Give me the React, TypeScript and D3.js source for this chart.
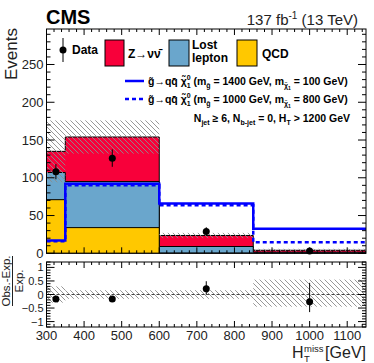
import React from 'react';
import * as d3 from 'd3';

// HT-miss bins (GeV)
const binEdges = [300, 350, 600, 850, 1150];
// stacked backgrounds
const qcdYield = [71, 34, 0, 0];
const lostLeptonYield = [36, 61, 9, 1.5];
const zinvYield = [28, 59, 14.6, 2.5];
const bkgUncUp = [41, 22, 3.5, 2];
const bkgUncDown = [41, 22, 3.5, 1.5];
// observed
const dataObs = [108, 126, 29, 3];
const dataErrUp = [10, 11.5, 5.5, 3];
const dataErrDown = [10, 11.5, 5.5, 1.7];
// signal benchmarks
const sigHeavy = [17, 92, 66, 32.5];
const sigCompressed = [16, 90, 63.5, 14.7];
// ratio panel
const ratioObs = [-0.17, -0.17, 0.21, -0.27];
const ratioErrUp = [0.07, 0.07, 0.28, 0.7];
const ratioErrDown = [0.07, 0.07, 0.22, 0.38];
const ratioUncUp = [0.3, 0.16, 0.16, 0.55];
const ratioUncDown = [0.3, 0.16, 0.16, 0.45];

const yTicks = [0, 50, 100, 150, 200, 250];
const ratioTicks = [-1, -0.5, 0, 0.5, 1];
const xTicks = [300, 400, 500, 600, 700, 800, 900, 1000, 1100];

const RED = '#f8003a';
const BLUE = '#6aa6cc';
const YELLOW = '#ffc800';
const FONT = '"Liberation Sans", Arial, Helvetica, sans-serif';

const L = 46.5;
const R = 366;
const x = d3.scaleLinear().domain([300, 1150]).range([L, R]);
const y = d3.scaleLinear().domain([0, 297]).range([253.3, 29]);
const yr = d3.scaleLinear().domain([-1.2, 1.2]).range([327, 262]);

const nb = binEdges.length - 1;
const centers = d3.range(nb).map((i) => (binEdges[i] + binEdges[i + 1]) / 2);

const stepPts = (vals: number[]) => binEdges.map((e, i) => [e, vals[Math.min(i, nb - 1)]] as [number, number]);

const area = d3
  .area<[number, number]>()
  .curve(d3.curveStepAfter)
  .x((d) => x(d[0]))
  .y0(y(0))
  .y1((d) => y(d[1]));

const line = d3
  .line<[number, number]>()
  .curve(d3.curveStepAfter)
  .x((d) => x(d[0]))
  .y((d) => y(d[1]));

function Ticks({ top, bottom, yScale, yMajor, yMinor, yMaj = 8, yMin = 4 }: any) {
  const xMinor = d3.range(300, 1151, 20).filter((v) => v % 100 !== 0);
  const segs: any[] = [];
  xTicks.forEach((v) => {
    segs.push([x(v), bottom, x(v), bottom - 6]);
    segs.push([x(v), top, x(v), top + 6]);
  });
  xMinor.forEach((v) => {
    segs.push([x(v), bottom, x(v), bottom - 3]);
    segs.push([x(v), top, x(v), top + 3]);
  });
  yMajor.forEach((v: number) => {
    segs.push([L, yScale(v), L + yMaj, yScale(v)]);
    segs.push([R, yScale(v), R - yMaj, yScale(v)]);
  });
  yMinor.forEach((v: number) => {
    segs.push([L, yScale(v), L + yMin, yScale(v)]);
    segs.push([R, yScale(v), R - yMin, yScale(v)]);
  });
  return (
    <g stroke="#000" strokeWidth={1}>
      {segs.map((s, i) => (
        <line key={i} x1={s[0]} y1={s[1]} x2={s[2]} y2={s[3]} />
      ))}
    </g>
  );
}

export default function App() {
  const cumQcd = qcdYield;
  const cumLL = qcdYield.map((v, i) => v + lostLeptonYield[i]);
  const cumTot = cumLL.map((v, i) => v + zinvYield[i]);

  const mainMinor = d3.range(0, 297, 10).filter((v) => v % 50 !== 0);
  const ratioMinor = d3.range(-1.2, 1.21, 0.1).map((v) => Math.round(v * 10) / 10).filter((v) => Math.abs(v * 2 - Math.round(v * 2)) > 0.01);

  const sub = { fontSize: 7 };

  return (
    <div style={{ position: 'fixed', left: 0, top: 0 }}>
      <svg width={374} height={363} style={{ display: 'block', fontFamily: FONT }}>
        <defs>
          <pattern id="hatch" patternUnits="userSpaceOnUse" width={5} height={5}>
            <path d="M-1,-1 L6,6 M-1,4 L1,6 M4,-1 L6,1" stroke="#8c8c8c" strokeWidth={0.9} />
          </pattern>
          <clipPath id="mainClip">
            <rect x={L} y={29} width={R - L} height={253.3 - 29} />
          </clipPath>
        </defs>
        <rect width={374} height={363} fill="#fff" />

        {/* stacked backgrounds */}
        <g clipPath="url(#mainClip)">
          <path d={area(stepPts(cumTot)) as string} fill={RED} stroke="#000" strokeWidth={1} />
          <path d={area(stepPts(cumLL)) as string} fill={BLUE} stroke="#000" strokeWidth={1} />
          <path d={area(stepPts(cumQcd)) as string} fill={YELLOW} stroke="#000" strokeWidth={1} />
          {/* uncertainty band */}
          {d3.range(nb).map((i) => (
            <rect
              key={i}
              x={x(binEdges[i])}
              width={x(binEdges[i + 1]) - x(binEdges[i])}
              y={y(cumTot[i] + bkgUncUp[i])}
              height={y(cumTot[i] - bkgUncDown[i]) - y(cumTot[i] + bkgUncUp[i])}
              fill="url(#hatch)"
            />
          ))}
          {/* signals */}
          <path d={line(stepPts(sigHeavy)) as string} fill="none" stroke="#0000ff" strokeWidth={2.5} />
          <path d={line(stepPts(sigCompressed)) as string} fill="none" stroke="#0000ff" strokeWidth={2.5} strokeDasharray="4,3" />
        </g>

        {/* data */}
        {centers.map((c, i) => (
          <g key={i}>
            <line x1={x(c)} x2={x(c)} y1={y(dataObs[i] + dataErrUp[i])} y2={y(dataObs[i] - dataErrDown[i])} stroke="#000" />
            <circle cx={x(c)} cy={y(dataObs[i])} r={3.5} fill="#000" />
          </g>
        ))}

        <Ticks top={29} bottom={253.3} yScale={y} yMajor={yTicks} yMinor={mainMinor} />
        <rect x={L} y={29} width={R - L} height={253.3 - 29} fill="none" stroke="#000" strokeWidth={1} />

        {/* main y labels */}
        <g fontSize={13} fill="#222" textAnchor="end">
          {yTicks.map((v) => (
            <text key={v} x={L - 3} y={y(v) + 4.5}>
              {v}
            </text>
          ))}
        </g>
        <text transform="translate(17,28) rotate(-90)" textAnchor="end" fontSize={17} fill="#222">
          Events
        </text>

        {/* header */}
        <text x={46} y={24} fontSize={20} fontWeight="bold">
          CMS
        </text>
        <text x={358} y={25} fontSize={15} textAnchor="end" fill="#222">
          137 fb<tspan fontSize={10} dy={-6}>-1</tspan>
          <tspan dy={6}> (13 TeV)</tspan>
        </text>

        {/* legend row */}
        <g fontWeight="bold" fontSize={12}>
          <line x1={63} x2={63} y1={38} y2={62} stroke="#000" />
          <circle cx={63} cy={50} r={3.5} fill="#000" />
          <text x={72} y={54}>Data</text>
          <rect x={105} y={40} width={19} height={26} fill={RED} stroke="#000" />
          <text x={128} y={58}>
            Z→νν̄
          </text>
          <rect x={169} y={40} width={20} height={26} fill={BLUE} stroke="#000" />
          <text x={192} y={49}>Lost</text>
          <text x={192} y={62}>lepton</text>
          <rect x={237} y={40} width={20} height={26} fill={YELLOW} stroke="#000" />
          <text x={262} y={58}>QCD</text>
        </g>

        {/* signal legend */}
        <g fontWeight="bold" fontSize={10.5}>
          <line x1={125} x2={144} y1={81} y2={81} stroke="#0000ff" strokeWidth={2.5} />
          <line x1={125} x2={144} y1={99} y2={99} stroke="#0000ff" strokeWidth={2.5} strokeDasharray="4,3" />
          {[
            ['1400', '100', 85],
            ['1000', '800', 103],
          ].map(([mg, mx, yy]) => (
            <text key={mg as string} x={148} y={yy as number}>
              g̃→qq̄ χ̃<tspan {...sub} dy={-5}>0</tspan>
              <tspan {...sub} dx={-4} dy={8}>1</tspan>
              <tspan dy={-3}> (m</tspan>
              <tspan {...sub} dy={3}>g̃</tspan>
              <tspan dy={-3}> = {mg} GeV, m</tspan>
              <tspan {...sub} dy={3}>χ̃</tspan>
              <tspan fontSize={5} dy={2}>1</tspan>
              <tspan dy={-5}> = {mx} GeV)</tspan>
            </text>
          ))}
          <text x={350} y={122} textAnchor="end">
            N<tspan {...sub} dy={3}>jet</tspan>
            <tspan dy={-3}> ≥ 6, N</tspan>
            <tspan {...sub} dy={3}>b-jet</tspan>
            <tspan dy={-3}> = 0, H</tspan>
            <tspan {...sub} dy={3}>T</tspan>
            <tspan dy={-3}> &gt; 1200 GeV</tspan>
          </text>
        </g>

        {/* ratio panel */}
        {d3.range(nb).map((i) => (
          <rect
            key={i}
            x={x(binEdges[i])}
            width={x(binEdges[i + 1]) - x(binEdges[i])}
            y={yr(ratioUncUp[i])}
            height={yr(-ratioUncDown[i]) - yr(ratioUncUp[i])}
            fill="url(#hatch)"
          />
        ))}
        <line x1={L} x2={R} y1={yr(0)} y2={yr(0)} stroke="#444" strokeDasharray="3,2" />
        {centers.map((c, i) => (
          <g key={i}>
            <line x1={x(c)} x2={x(c)} y1={yr(ratioObs[i] + ratioErrUp[i])} y2={yr(ratioObs[i] - ratioErrDown[i])} stroke="#000" />
            <circle cx={x(c)} cy={yr(ratioObs[i])} r={3.5} fill="#000" />
          </g>
        ))}
        <Ticks top={262} bottom={327} yScale={yr} yMajor={ratioTicks} yMinor={ratioMinor} />
        <rect x={L} y={262} width={R - L} height={65} fill="none" stroke="#000" strokeWidth={1} />
        <g fontSize={11} fill="#222" textAnchor="end">
          {ratioTicks.map((v) => (
            <text key={v} x={L - 3} y={yr(v) + 4}>
              {v < 0 ? '−' + Math.abs(v) : v}
            </text>
          ))}
        </g>
        <g fontSize={11.5} fill="#222" textAnchor="middle">
          <text transform="translate(10,281) rotate(-90)">Obs.-Exp.</text>
          <line x1={12.5} x2={12.5} y1={256} y2={306} stroke="#222" strokeWidth={1} />
          <text transform="translate(23,281) rotate(-90)">Exp.</text>
        </g>
        <g fontSize={13} fill="#222" textAnchor="middle">
          {xTicks.map((v) => (
            <text key={v} x={x(v)} y={340}>
              {v}
            </text>
          ))}
        </g>
        <g fill="#222">
          <text x={292} y={358} fontSize={16}>
            H
          </text>
          <text x={304} y={352} fontSize={9.5}>
            miss
          </text>
          <text x={304} y={362} fontSize={9.5}>
            T
          </text>
          <text x={366} y={358} fontSize={16} textAnchor="end">
            [GeV]
          </text>
        </g>
      </svg>
    </div>
  );
}
